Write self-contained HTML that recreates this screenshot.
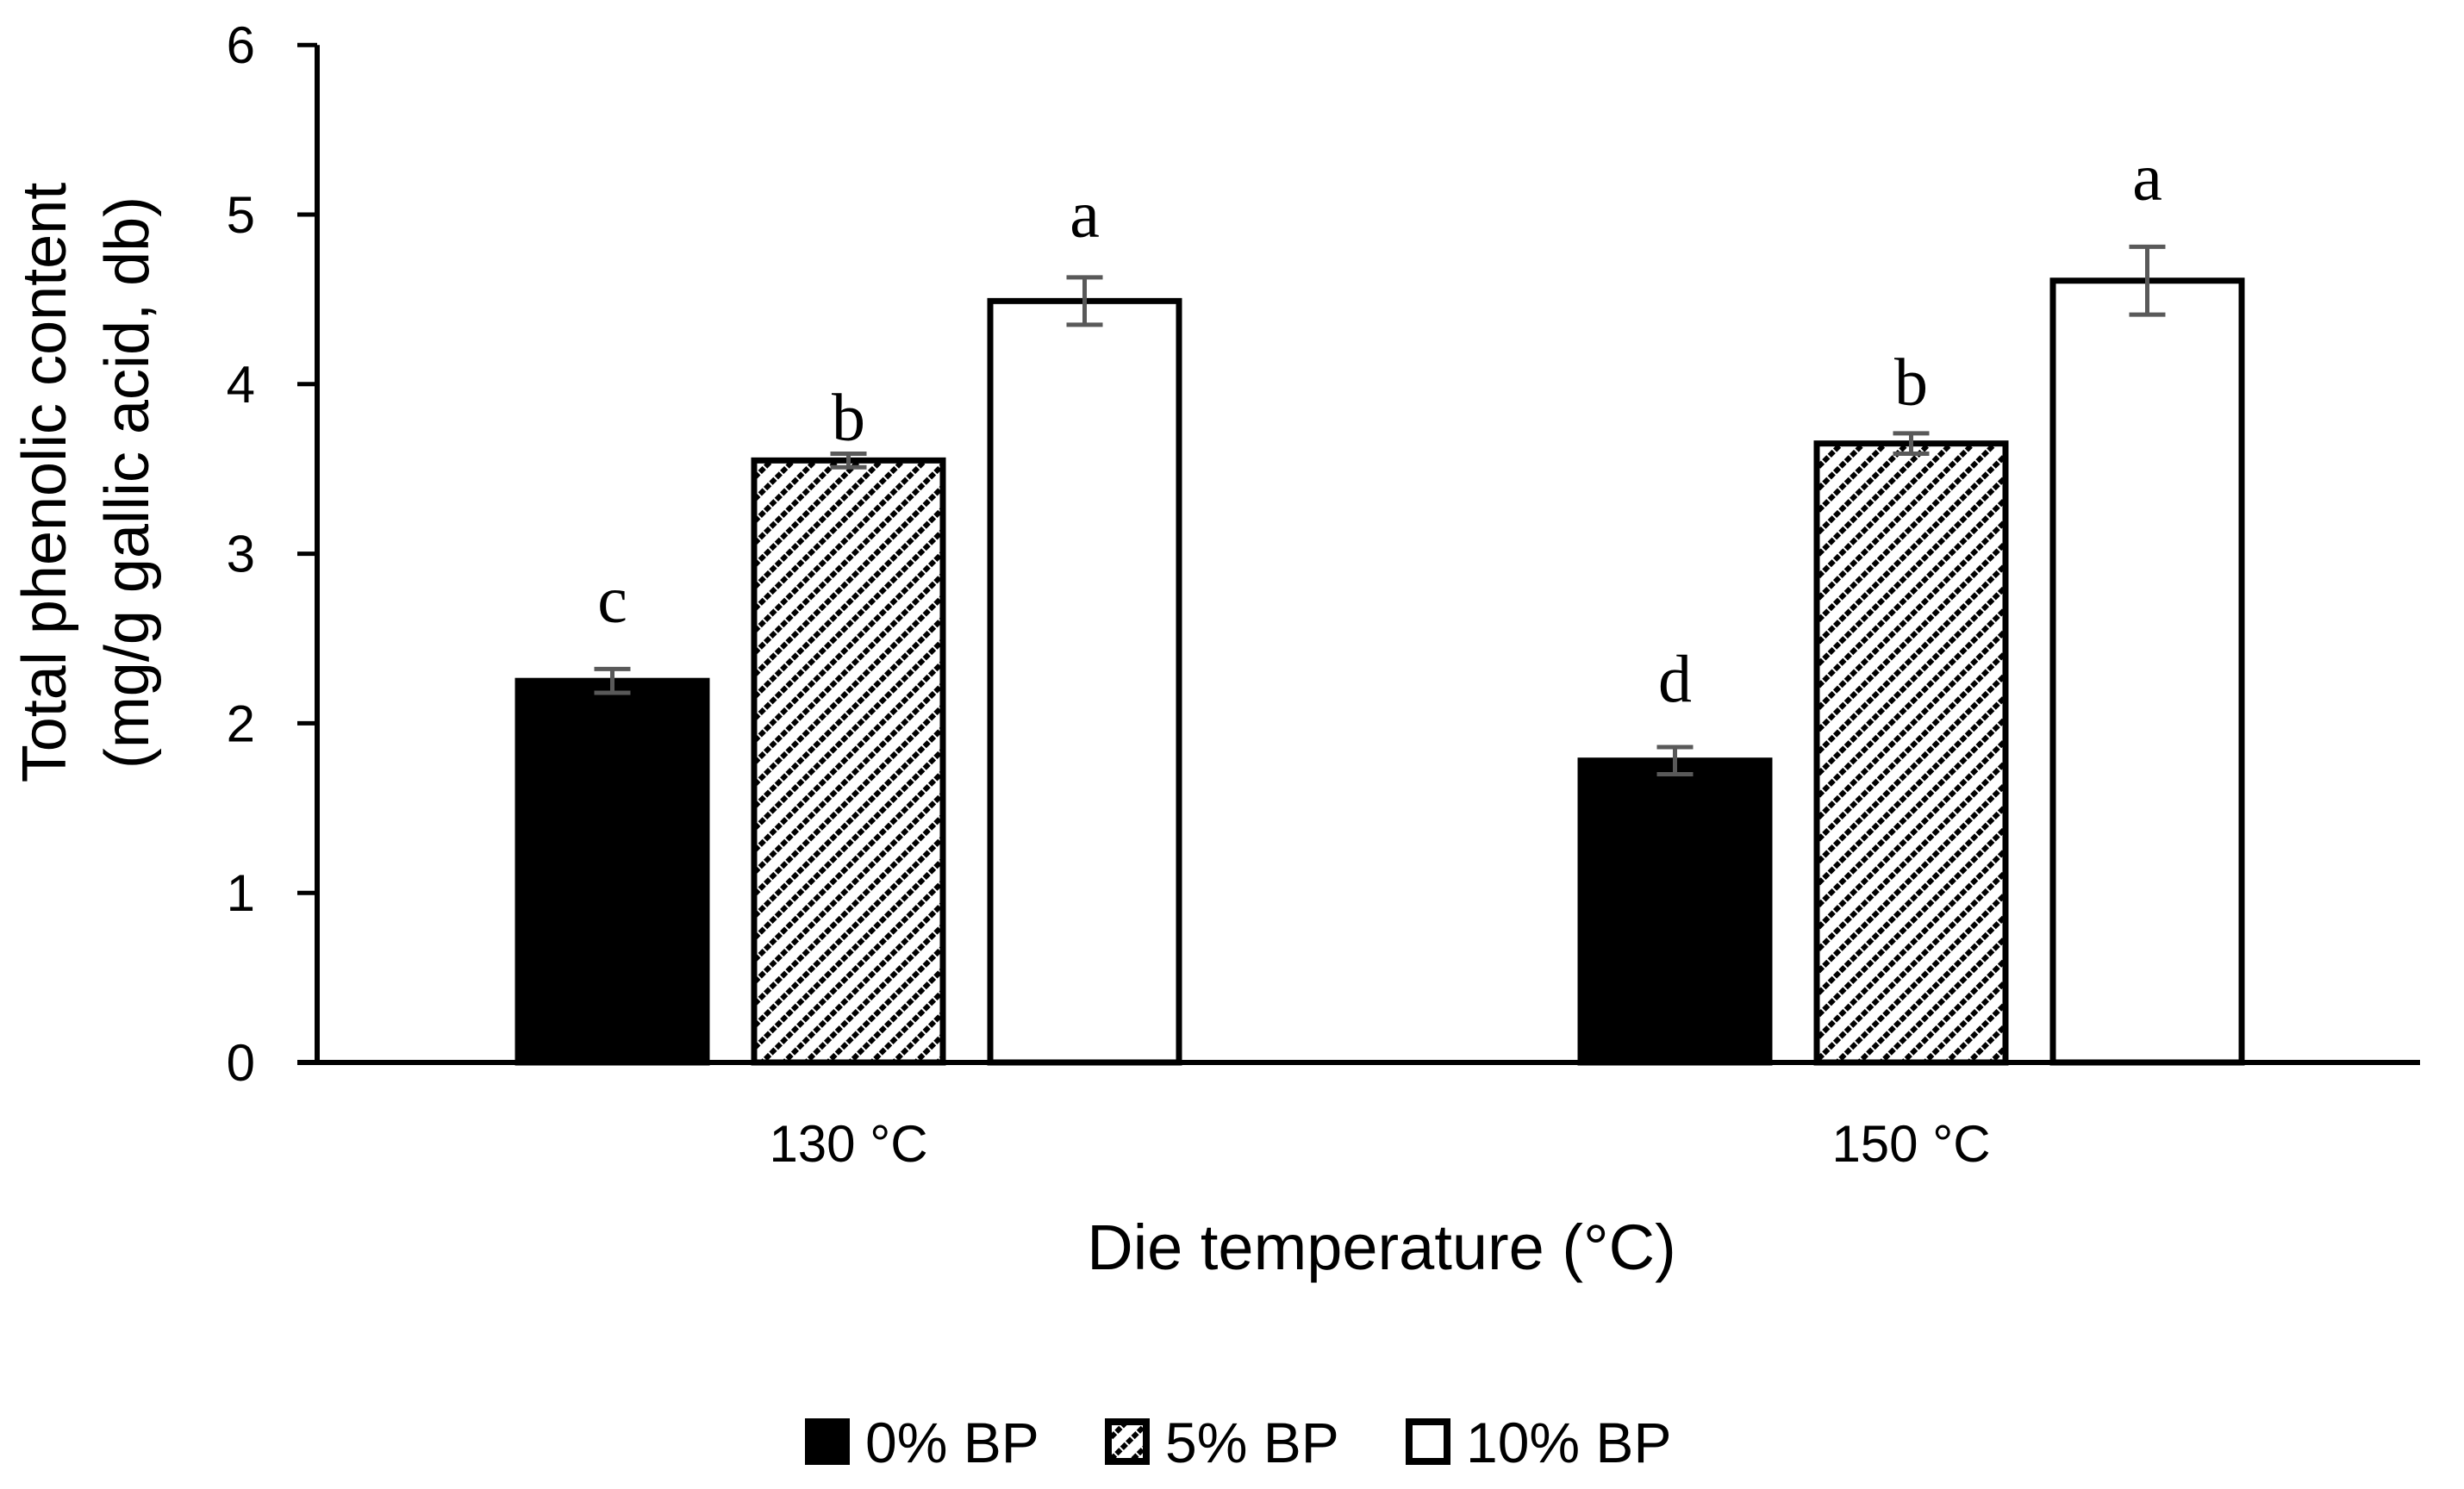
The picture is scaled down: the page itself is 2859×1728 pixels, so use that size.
<!DOCTYPE html>
<html><head><meta charset="utf-8"><style>
html,body{margin:0;padding:0;background:#fff;width:2859px;height:1728px;overflow:hidden}
svg{display:block}
text{font-family:"Liberation Sans",sans-serif;fill:#000}
.serif{font-family:"Liberation Serif",serif}
</style></head><body>
<svg id="chart" width="2859" height="1728" viewBox="0 0 2859 1728">
<defs>
<pattern id="hatch" patternUnits="userSpaceOnUse" width="18" height="18" patternTransform="rotate(45)">
<rect width="18" height="18" fill="#fff"/>
<line x1="3" y1="0" x2="3" y2="18" stroke="#000" stroke-width="6" stroke-dasharray="7 2"/>
</pattern>
</defs>
<g id="plot"></g>
</svg>
<script>
const categories = ["130 °C", "150 °C"];
const seriesNames = ["0% BP", "5% BP", "10% BP"];
const values0 = [2.25, 1.78];
const values5 = [3.55, 3.65];
const values10 = [4.49, 4.61];
const errors0 = [0.07, 0.08];
const errors5 = [0.04, 0.06];
const errors10 = [0.14, 0.20];
const letters0 = ["c", "d"];
const letters5 = ["b", "b"];
const letters10 = ["a", "a"];
const letterLevel0 = [2.6, 2.13];
const letterLevel5 = [3.67, 3.88];
const letterLevel10 = [4.87, 5.09];
const yTicks = [0, 1, 2, 3, 4, 5, 6];

const NS = "http://www.w3.org/2000/svg";
const g = document.getElementById("plot");
const X0 = 368, X1 = 2808, Y0 = 1233, UNIT = 196.8;
const BAND = 1233, BARW = 219, STEP = 274;
function y(v){ return Y0 - v * UNIT; }
function xc(i){ return X0 + BAND * (i + 0.5); }
function mk(tag, attrs){ const e = document.createElementNS(NS, tag); for (const k in attrs) e.setAttribute(k, attrs[k]); g.appendChild(e); return e; }

yTicks.forEach(t => {
  const tk = mk("line", {x1: X0 - 23, x2: X0, y1: y(t), y2: y(t), stroke: "#000", "stroke-width": 5});
  
  
  const lb = mk("text", {x: 296, y: y(t) + 21, "text-anchor": "end", "font-size": 60});
  lb.textContent = t;
  
  
});

const series = [
  {vals: values0, errs: errors0, lets: letters0, lv: letterLevel0, fill: "#000"},
  {vals: values5, errs: errors5, lets: letters5, lv: letterLevel5, fill: "url(#hatch)"},
  {vals: values10, errs: errors10, lets: letters10, lv: letterLevel10, fill: "#fff"}
];
categories.forEach((c, i) => {
  series.forEach((s, j) => {
    const cx = xc(i) + (j - 1) * STEP;
    const v = s.vals[i], e = s.errs[i];
    const r = mk("rect", {x: cx - BARW/2, y: y(v), width: BARW, height: Y0 - y(v), fill: s.fill, stroke: "#000", "stroke-width": 7});
    
    
    const eb = mk("path", {d: `M${cx},${y(v+e)}V${y(v-e)}M${cx-21},${y(v+e)}H${cx+21}M${cx-21},${y(v-e)}H${cx+21}`, stroke: "#595959", "stroke-width": 5, fill: "none"});
    
    
    const lt = mk("text", {x: cx, y: y(s.lv[i]), "text-anchor": "middle", "font-size": 78, class: "serif"});
    lt.textContent = s.lets[i];
    
    
  });
  const cl = mk("text", {x: xc(i), y: 1348, "text-anchor": "middle", "font-size": 60});
  cl.textContent = c;
  
  
});

const ya = mk("line", {x1: X0, x2: X0, y1: y(6), y2: Y0 + 3, stroke: "#000", "stroke-width": 6});


const xa = mk("line", {x1: X0 - 23, x2: X1, y1: Y0, y2: Y0, stroke: "#000", "stroke-width": 6});



const xt = mk("text", {x: 1603, y: 1473, "text-anchor": "middle", "font-size": 74});
xt.textContent = "Die temperature (°C)";


const yt1 = mk("text", {x: 0, y: 0, "text-anchor": "middle", "font-size": 72, transform: "translate(76,560) rotate(-90)"});
yt1.textContent = "Total phenolic content";


const yt2 = mk("text", {x: 0, y: 0, "text-anchor": "middle", "font-size": 72, transform: "translate(172,560) rotate(-90)"});
yt2.textContent = "(mg/g gallic acid, db)";



const legX = [934, 1282, 1631];
const legFill = ["#000", "url(#hatch)", "#fff"];
seriesNames.forEach((n, j) => {
  const sw = mk("rect", {x: legX[j] + 4, y: 1650, width: 44, height: 46, fill: legFill[j], stroke: "#000", "stroke-width": 8});
  
  
  const tx = mk("text", {x: legX[j] + 70, y: 1697, "font-size": 66});
  tx.textContent = n;
  
  
});
</script>
</body></html>
